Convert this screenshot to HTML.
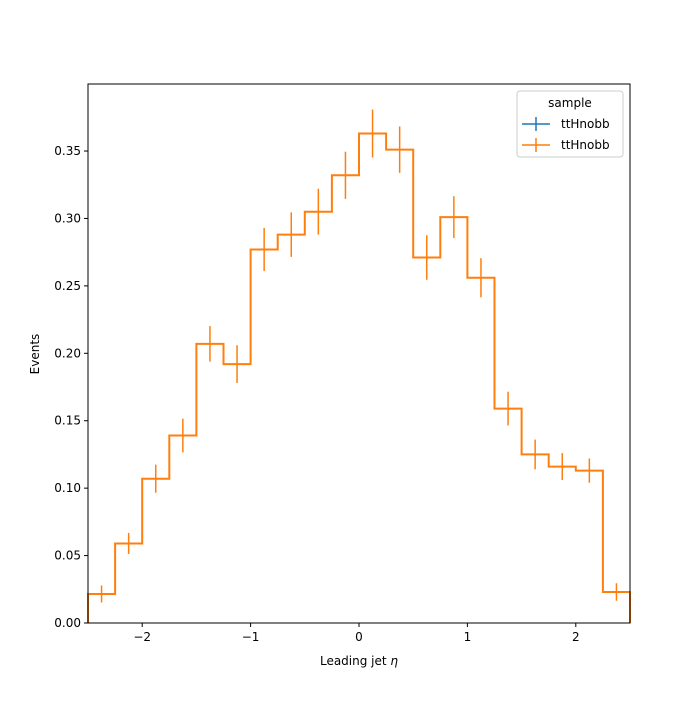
<!DOCTYPE html>
<html><head><meta charset="utf-8"><style>
body{margin:0;background:#fff;font-family:"Liberation Sans","DejaVu Sans",sans-serif;}
svg text{font-family:"DejaVu Sans","Liberation Sans",sans-serif;}
</style></head><body>
<svg id="chart" width="700" height="700" viewBox="0 0 700 700" xmlns="http://www.w3.org/2000/svg">
<rect width="700" height="700" fill="#fff"/>
<g id="plot"></g>
</svg>
<script>
const binEdges=[-2.5,-2.25,-2,-1.75,-1.5,-1.25,-1,-0.75,-0.5,-0.25,0,0.25,0.5,0.75,1,1.25,1.5,1.75,2,2.25,2.5];
const values=[0.0215,0.059,0.107,0.139,0.207,0.192,0.277,0.288,0.305,0.332,0.363,0.351,0.271,0.301,0.256,0.159,0.125,0.116,0.113,0.023];
const errors=[0.0063,0.0078,0.0104,0.0125,0.0132,0.014,0.016,0.0165,0.017,0.0175,0.0178,0.0172,0.0165,0.0155,0.0145,0.0125,0.011,0.01,0.009,0.0065];
const xTicks=[-2,-1,0,1,2];
const xTickLabels=["\u22122","\u22121","0","1","2"];
const yTicks=[0,0.05,0.10,0.15,0.20,0.25,0.30,0.35];
const yTickLabels=["0.00","0.05","0.10","0.15","0.20","0.25","0.30","0.35"];
const L=88,R=630,T=84,B=623,xmin=-2.5,xmax=2.5,ymax=0.3997;
const X=v=>L+(v-xmin)/(xmax-xmin)*(R-L);
const Y=v=>B-v/ymax*(B-T);
const NS="http://www.w3.org/2000/svg";
const g=document.getElementById('plot');
function mk(t,a,p){const e=document.createElementNS(NS,t);for(const k in a)e.setAttribute(k,a[k]);(p||g).appendChild(e);return e;}
// step line
let d="";
for(let i=0;i<values.length;i++){const x0=X(binEdges[i]),x1=X(binEdges[i+1]),y=Y(values[i]);d+=(i===0?`M${x0},${Y(0)}L${x0},${y}`:`L${x0},${y}`)+`L${x1},${y}`;}
d+=`L${X(binEdges[binEdges.length-1])},${Y(0)}`;
let step=mk('path',{d:d,fill:'none',stroke:'#ff7f0e','stroke-width':2});


for(let i=0;i<values.length;i++){
 const xc=X((binEdges[i]+binEdges[i+1])/2);
 let e=mk('line',{x1:xc,x2:xc,y1:Y(values[i]-errors[i]),y2:Y(values[i]+errors[i]),stroke:'#ff7f0e','stroke-width':1.5});
 
 
}
let fr=mk('rect',{x:L,y:T,width:R-L,height:B-T,fill:'none',stroke:'#000','stroke-width':1});


xTicks.forEach((v,i)=>{const x=X(v);mk('line',{x1:x,x2:x,y1:B,y2:B+4,stroke:'#000'});
 let t=mk('text',{x:x,y:B+18,'text-anchor':'middle','font-size':12});t.textContent=xTickLabels[i];
 
 });
yTicks.forEach((v,i)=>{const y=Y(v);mk('line',{x1:L-4,x2:L,y1:y,y2:y,stroke:'#000'});
 let t=mk('text',{x:L-7,y:y+4,'text-anchor':'end','font-size':12});t.textContent=yTickLabels[i];
 
 });
</script>
<svg width="700" height="700" style="position:absolute;left:0;top:0" xmlns="http://www.w3.org/2000/svg">
<text x="359" y="665" text-anchor="middle" font-size="12">Leading jet  <tspan font-style="italic">η</tspan></text>
<text x="39" y="354" text-anchor="middle" font-size="12" transform="rotate(-90 39 354)">Events</text>
<g>
<rect x="517" y="91" width="106" height="66" rx="3" fill="#fff" fill-opacity="0.8" stroke="#ccc"/>
<text x="570" y="107" text-anchor="middle" font-size="12">sample</text>
<g><line x1="522" x2="550" y1="124" y2="124" stroke="#1f77b4" stroke-width="1.5"/><line x1="536" x2="536" y1="117" y2="131" stroke="#1f77b4" stroke-width="1.5"/><text x="561" y="128" font-size="12">ttHnobb</text></g>
<g><line x1="522" x2="550" y1="145" y2="145" stroke="#ff7f0e" stroke-width="1.5"/><line x1="536" x2="536" y1="138" y2="152" stroke="#ff7f0e" stroke-width="1.5"/><text x="561" y="149" font-size="12">ttHnobb</text></g>
</g>
</svg>
</body></html>
